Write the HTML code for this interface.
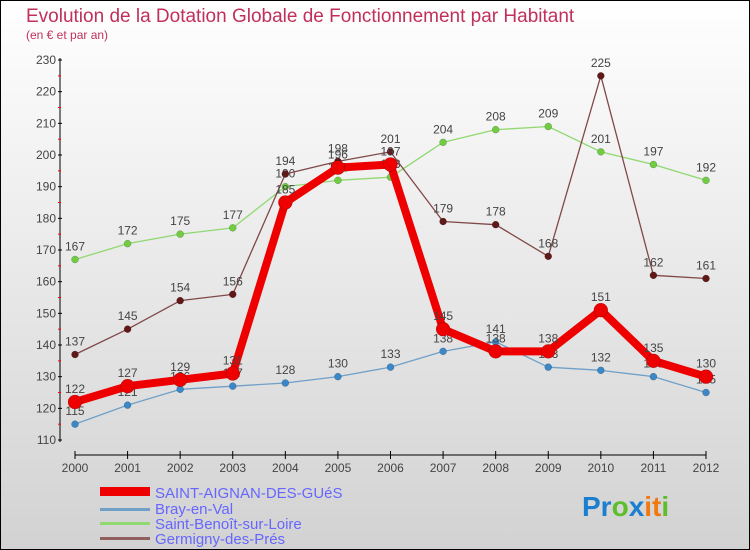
<!DOCTYPE html>
<html><head><meta charset="utf-8"><style>
body{margin:0;width:750px;height:550px;overflow:hidden}
svg{display:block;font-family:"Liberation Sans",sans-serif}
</style></head><body>
<svg id="c" width="750" height="550" xmlns="http://www.w3.org/2000/svg">
<defs><linearGradient id="bg" x1="0" y1="0" x2="0" y2="1"><stop offset="0" stop-color="#ffffff"/><stop offset="1" stop-color="#d2d2d2"/></linearGradient></defs>
<rect x="0.5" y="0.5" width="749" height="549" fill="url(#bg)" stroke="#000"/>
<text x="26" y="22" font-size="19" fill="#c0305a">Evolution de la Dotation Globale de Fonctionnement par Habitant</text>
<text x="26" y="39" font-size="12" fill="#c0305a">(en € et par an)</text>
<g id="axes"></g><g id="series"></g>
<g>
<rect x="100" y="487" width="50" height="9" fill="#e00"/>
<text x="155" y="498" font-size="15" fill="#6666ff">SAINT-AIGNAN-DES-GUéS</text>
<rect x="100" y="508" width="50" height="3" fill="#70a0c8"/>
<text x="155" y="514" font-size="15" fill="#6666ff">Bray-en-Val</text>
<rect x="100" y="522" width="50" height="3" fill="#90d870"/>
<text x="155" y="529" font-size="15" fill="#6666ff">Saint-Benoît-sur-Loire</text>
<rect x="100" y="537" width="50" height="3" fill="#906060"/>
<text x="155" y="544" font-size="15" fill="#6666ff">Germigny-des-Prés</text>
</g>
<text x="582" y="516" font-size="28" font-weight="bold"><tspan fill="#1a7fd0">Pr</tspan><tspan fill="#5bbf2b">o</tspan><tspan fill="#1a7fd0">x</tspan><tspan fill="#f07a10">it</tspan><tspan fill="#5bbf2b">i</tspan></text>
</svg>
<script>
const years=[2000,2001,2002,2003,2004,2005,2006,2007,2008,2009,2010,2011,2012];
const yTicks=[110,120,130,140,150,160,170,180,190,200,210,220,230];
const saintAignan=[122,127,129,131,185,196,197,145,138,138,151,135,130];
const bray=[115,121,126,127,128,130,133,138,141,133,132,130,125];
const saintBenoit=[167,172,175,177,190,192,193,204,208,209,201,197,192];
const germigny=[137,145,154,156,194,198,201,179,178,168,225,162,161];
const NS="http://www.w3.org/2000/svg";
const X=i=>75+i*(706-75)/12;
const Y=v=>440-(v-110)*(380/120);
function mk(t,a,p){const e=document.createElementNS(NS,t);for(const k in a)e.setAttribute(k,a[k]);p.appendChild(e);return e;}
const ax=document.getElementById('axes');
const yl=mk('line',{x1:60,y1:58,x2:60,y2:442,stroke:'#000'},ax);


const xl=mk('line',{x1:75,y1:455,x2:706,y2:455,stroke:'#000'},ax);


yTicks.forEach(v=>{
  mk('line',{x1:58,y1:Y(v),x2:62,y2:Y(v),stroke:'#000'},ax);
  if(v<230)mk('line',{x1:58,y1:Y(v+5),x2:61,y2:Y(v+5),stroke:'#f00'},ax);
  const t=mk('text',{x:56,y:Y(v)+4,'font-size':12,'text-anchor':'end',fill:'#444'},ax);
  t.textContent=v;
  
  
});
years.forEach((y,i)=>{
  mk('line',{x1:X(i),y1:451,x2:X(i),y2:459,stroke:'#000'},ax);
  const t=mk('text',{x:X(i),y:472,'font-size':12,'text-anchor':'middle',fill:'#444'},ax);
  t.textContent=y;
  
  
});
const sg=document.getElementById('series');
function draw(data,color,dot,w,r,name){
  const g=mk('g',{},sg);
  
  
  const l=mk('polyline',{points:data.map((v,i)=>X(i)+','+Y(v)).join(' '),fill:'none',stroke:color,'stroke-width':w,'stroke-linejoin':'round'},g);
  
  
  data.forEach((v,i)=>{
    const c=mk('circle',{cx:X(i),cy:Y(v),r:r,fill:dot,stroke:'rgba(0,0,0,0.3)','stroke-width':0.5},g);
    
    
    const t=mk('text',{x:X(i),y:Y(v)-9,'font-size':12,'text-anchor':'middle',fill:'#444'},g);
    t.textContent=v;
    
    
  });
}
draw(bray,'#70a0c8','#3a88c8',1.3,3.5,'series-bray');
draw(saintBenoit,'#90d870','#70cc40',1.3,3.5,'series-saint-benoit');
draw(germigny,'#804848','#601818',1.3,3.5,'series-germigny');
draw(saintAignan,'#ee0000','#ee0000',8,7,'series-saint-aignan');
</script>
</body></html>
